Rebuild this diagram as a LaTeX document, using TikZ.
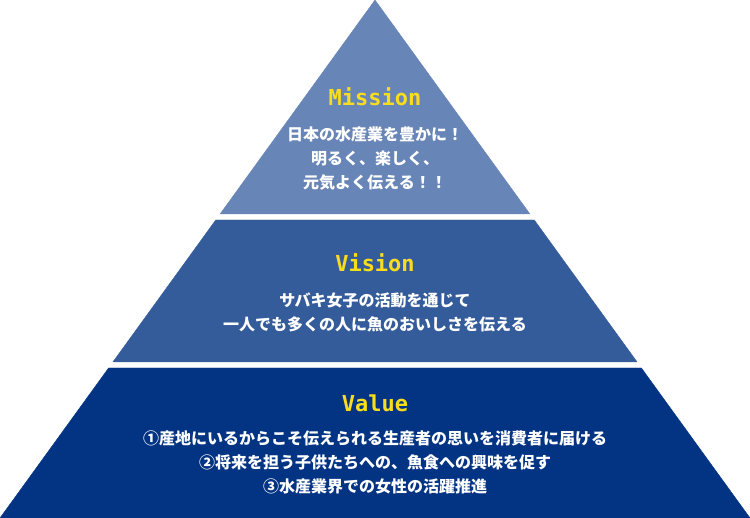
\documentclass[tikz,border=0pt]{standalone}
\usepackage{fontspec}
\usepackage{xcolor}
\newfontfamily\jpfont{Noto Sans CJK JP}
\newfontfamily\titlefont{DejaVu Sans Mono}
\definecolor{MissionBlue}{RGB}{103,133,182}
\definecolor{VisionBlue}{RGB}{52,92,155}
\definecolor{ValueBlue}{RGB}{3,52,132}
\definecolor{TitleYellow}{RGB}{250,220,30}
\tikzset{
	bandtitle/.style={inner sep=0pt, text=TitleYellow, font={\titlefont\bfseries\fontsize{22}{22}\selectfont}},
	bandtext/.style={inner sep=0pt, text=white, align=center, font={\jpfont\bfseries\fontsize{16}{24}\selectfont}}
}

\begin{document}
\begin{tikzpicture}[x=1pt,y=-1pt]
		\useasboundingbox (0,0) rectangle (750,518);
		%Bands
		\filldraw [fill=MissionBlue, draw=MissionBlue] (375,0) -- (529.9,214) -- (220.1,214) -- cycle;
		\filldraw [fill=VisionBlue, draw=VisionBlue] (215.7,220) -- (534.3,220) -- (637.1,362) -- (112.9,362) -- cycle;
		\filldraw [fill=ValueBlue, draw=ValueBlue] (108.6,368) -- (641.4,368) -- (750,518) -- (0,518) -- cycle;
		%Titles
		\node [bandtitle] (mission) at (375,97) {Mission};
		\node [bandtitle] (vision) at (375,263) {Vision};
		\node [bandtitle] (value) at (375,403) {Value};
		%Texts
		\node [bandtext] (missiontext) at (375,159) {日本の水産業を豊かに！\\明るく、楽しく、\\元気よく伝える！！};
		\node [bandtext] (visiontext) at (375,312) {サバキ女子の活動を通じて\\一人でも多くの人に魚のおいしさを伝える};
		\node [bandtext] (valuetext) at (375,462) {①産地にいるからこそ伝えられる生産者の思いを消費者に届ける\\②将来を担う子供たちへの、魚食への興味を促す\\③水産業界での女性の活躍推進};
	\end{tikzpicture}
\end{document}
